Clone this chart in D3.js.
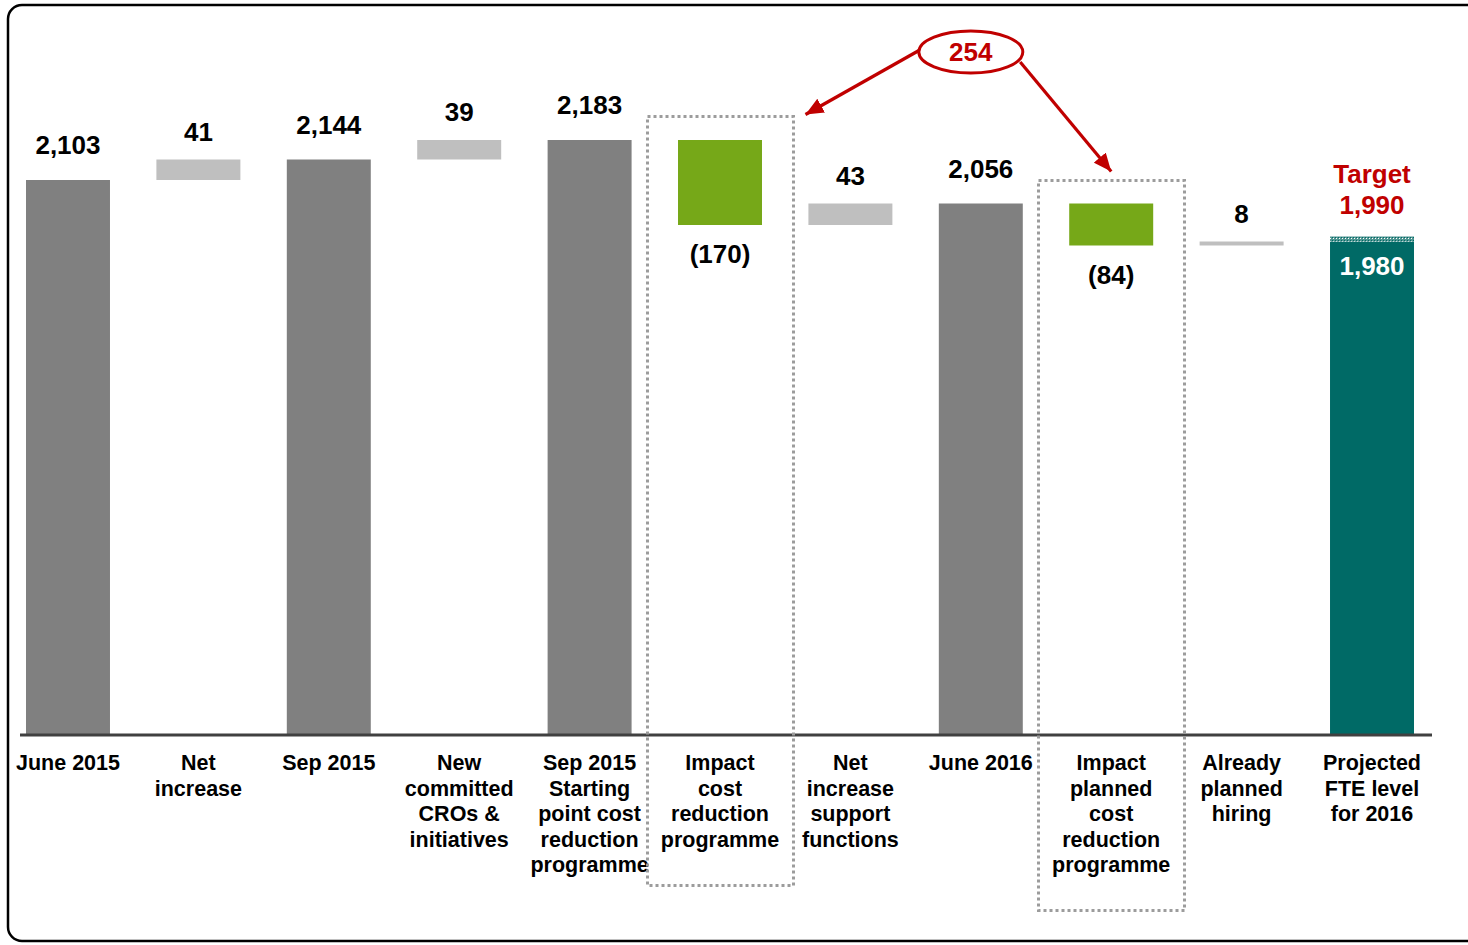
<!DOCTYPE html>
<html>
<head>
<meta charset="utf-8">
<script src="https://cdn.jsdelivr.net/npm/d3@7"></script>
<style>
  html, body { margin: 0; padding: 0; background: #ffffff; }
  svg { display: block; }
  text { font-family: "Liberation Sans", Arial, Helvetica, sans-serif; font-weight: bold; }
</style>
</head>
<body>
<svg id="chart" width="1468" height="945"></svg>
<script>
// FTE bridge: June 2015 -> projected level for 2016
const categories = [
  "June 2015", "Net increase", "Sep 2015", "New committed CROs & initiatives",
  "Sep 2015 Starting point cost reduction programme", "Impact cost reduction programme",
  "Net increase support functions", "June 2016", "Impact planned cost reduction programme",
  "Already planned hiring", "Projected FTE level for 2016"
];
const categoryLines = [
  ["June 2015"],
  ["Net", "increase"],
  ["Sep 2015"],
  ["New", "committed", "CROs &", "initiatives"],
  ["Sep 2015", "Starting", "point cost", "reduction", "programme"],
  ["Impact", "cost", "reduction", "programme"],
  ["Net", "increase", "support", "functions"],
  ["June 2016"],
  ["Impact", "planned", "cost", "reduction", "programme"],
  ["Already", "planned", "hiring"],
  ["Projected", "FTE level", "for 2016"]
];
const values = [2103, 41, 2144, 39, 2183, -170, 43, 2056, -84, 8, 1980];
const kinds = ["total", "delta", "total", "delta", "total", "delta", "delta", "total", "delta", "delta", "total"];
const valueLabels = ["2,103", "41", "2,144", "39", "2,183", "(170)", "43", "2,056", "(84)", "8", "1,980"];
const targetValue = 1990;
const targetLabels = ["Target", "1,990"];
const programmeIdx = [5, 8];
const programmeTotalLabel = "254";

const C = {
  total: "#808080",
  up: "#bfbfbf",
  down: "#76a818",
  final: "#006a66",
  red: "#c00000",
  axis: "#404040",
  box: "#9c9c9c"
};

const svg = d3.select("#chart");
const baseY = 735;

// Build waterfall segments (start/end) from the values
let running = 0;
const segs = values.map((v, i) => {
  let s, e;
  if (kinds[i] === "total") { s = null; e = v; running = v; }
  else { s = running; e = running + v; running = e; }
  return { i, cat: categories[i], v, kind: kinds[i], start: s, end: e, label: valueLabels[i] };
});

const x = d3.scaleBand().domain(categories).range([26, 1414]).paddingInner(0.356).paddingOuter(0);
const y = d3.scaleLinear().domain([993, 2200]).range([baseY, 131.5]);
const bw = x.bandwidth();

// patterns / markers
const defs = svg.append("defs");
const pat = defs.append("pattern").attr("id", "hatch").attr("patternUnits", "userSpaceOnUse")
  .attr("width", 3).attr("height", 3);
pat.append("rect").attr("width", 3).attr("height", 3).attr("fill", "#4f9491");
pat.append("rect").attr("x", 1).attr("y", 1).attr("width", 1).attr("height", 1).attr("fill", "#ffffff");
pat.append("rect").attr("x", 0).attr("y", 0).attr("width", 1).attr("height", 1).attr("fill", "#006a66");

defs.append("marker").attr("id", "arrowhead").attr("markerUnits", "userSpaceOnUse")
  .attr("viewBox", "0 0 16 14").attr("refX", 16).attr("refY", 7)
  .attr("markerWidth", 18).attr("markerHeight", 16).attr("orient", "auto")
  .append("path").attr("d", "M0,0 L16,7 L0,14 Z").attr("fill", C.red);

// frame
svg.append("rect").attr("x", 8).attr("y", 5).attr("width", 1480).attr("height", 936)
  .attr("rx", 14).attr("fill", "none").attr("stroke", "#000").attr("stroke-width", 2.5);

// bars
const barColor = d => d.kind === "total"
  ? (d.i === values.length - 1 ? C.final : C.total)
  : (d.v < 0 ? C.down : C.up);
const barTop = d => d.kind === "total" ? y(d.end) : y(Math.max(d.start, d.end));
const barBottom = d => d.kind === "total" ? baseY : y(Math.min(d.start, d.end));

svg.append("g").selectAll("rect").data(segs).join("rect")
  .attr("x", d => x(d.cat))
  .attr("y", barTop)
  .attr("width", bw)
  .attr("height", d => Math.max(3, barBottom(d) - barTop(d)))
  .attr("fill", barColor);

// target hatch on the final bar
const last = segs[segs.length - 1];
svg.append("rect")
  .attr("x", x(last.cat)).attr("y", y(targetValue))
  .attr("width", bw).attr("height", y(last.end) - y(targetValue))
  .attr("fill", "url(#hatch)");

// baseline
svg.append("line").attr("x1", 20).attr("x2", 1432).attr("y1", baseY).attr("y2", baseY)
  .attr("stroke", C.axis).attr("stroke-width", 3);

// value labels
const cx = d => x(d.cat) + bw / 2;
svg.append("g").selectAll("text").data(segs).join("text")
  .attr("x", cx)
  .attr("y", d => {
    if (d.i === values.length - 1) return y(d.end) + 33;
    if (d.kind === "delta" && d.v < 0) return barBottom(d) + 38;
    if (d.kind === "delta") return barTop(d) - 19;
    return barTop(d) - 26;
  })
  .attr("text-anchor", "middle")
  .attr("font-size", 26)
  .attr("fill", d => d.i === values.length - 1 ? "#ffffff" : "#000000")
  .text(d => d.label);

// target label
svg.append("g").selectAll("text").data(targetLabels).join("text")
  .attr("x", cx(last))
  .attr("y", (t, k) => y(targetValue) - 23 - (targetLabels.length - 1 - k) * 31)
  .attr("text-anchor", "middle").attr("font-size", 26).attr("fill", C.red)
  .text(t => t);

// category labels
const lineH = 25.6;
const firstLine = 770;
const catG = svg.append("g").selectAll("text").data(segs).join("text")
  .attr("text-anchor", "middle").attr("font-size", 21.5).attr("fill", "#000");
catG.selectAll("tspan").data(d => categoryLines[d.i].map(t => ({ t, d })))
  .join("tspan")
  .attr("x", o => cx(o.d))
  .attr("y", (o, k) => firstLine + k * lineH)
  .text(o => o.t);

// dotted boxes around the cost reduction programme steps
const boxes = programmeIdx.map(i => {
  const d = segs[i];
  const x0 = Math.round(x(d.cat) - 31) + 0.5;
  const top = Math.round(y(d.start) - 24) + 0.5;
  const bottom = Math.round(firstLine + (categoryLines[i].length - 1) * lineH + 38) + 0.5;
  return { x0, x1: x0 + Math.round(bw + 62), top, bottom, cx: cx(d) };
});
svg.append("g").selectAll("rect").data(boxes).join("rect")
  .attr("x", b => b.x0).attr("y", b => b.top)
  .attr("width", b => b.x1 - b.x0).attr("height", b => b.bottom - b.top)
  .attr("fill", "none").attr("stroke", C.box).attr("stroke-width", 3)
  .attr("stroke-dasharray", "3,3");

// combined programme impact callout
const ex = cx(segs[7]) - 10, ey = 52, rx = 52, ry = 21;
svg.append("line")
  .attr("x1", ex - rx + 1).attr("y1", ey - 2)
  .attr("x2", boxes[0].x1 + 12).attr("y2", boxes[0].top - 2)
  .attr("stroke", C.red).attr("stroke-width", 3.2).attr("marker-end", "url(#arrowhead)");
svg.append("line")
  .attr("x1", ex + rx * 0.95).attr("y1", ey + 10)
  .attr("x2", boxes[1].cx).attr("y2", boxes[1].top - 9)
  .attr("stroke", C.red).attr("stroke-width", 3.2).attr("marker-end", "url(#arrowhead)");
svg.append("ellipse").attr("cx", ex).attr("cy", ey).attr("rx", rx).attr("ry", ry)
  .attr("fill", "#ffffff").attr("stroke", C.red).attr("stroke-width", 3);
svg.append("text").attr("x", ex).attr("y", ey + 9).attr("text-anchor", "middle")
  .attr("font-size", 26).attr("fill", C.red).text(programmeTotalLabel);
</script>
</body>
</html>
